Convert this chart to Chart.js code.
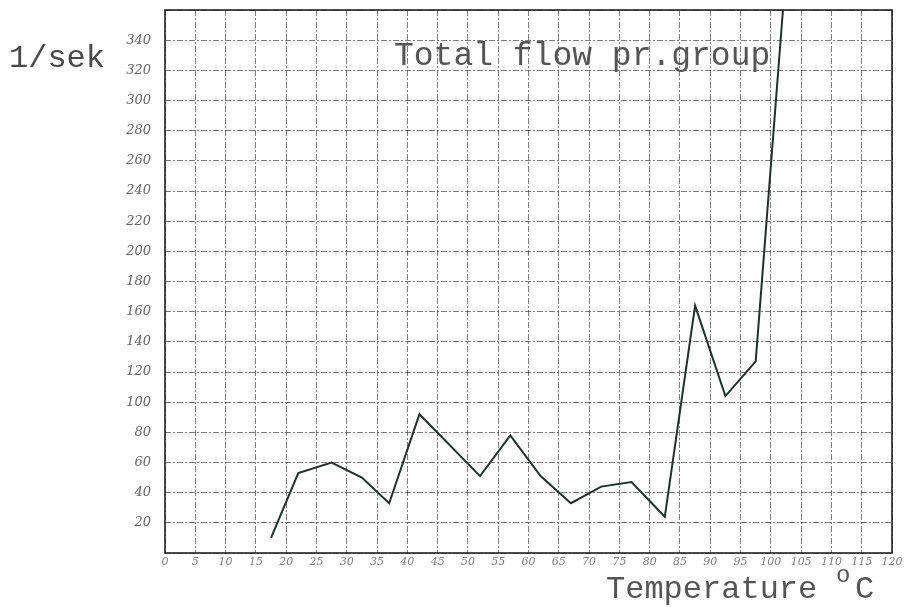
<!DOCTYPE html>
<html>
<head>
<meta charset="utf-8">
<script src="https://cdn.jsdelivr.net/npm/chart.js@4/dist/chart.umd.min.js"></script>
<style>
  html, body { margin: 0; padding: 0; background: #fff; }
  #wrap { width: 907px; height: 607px; position: relative; }
</style>
</head>
<body>
<div id="wrap"><canvas id="flowChart"></canvas></div>
<script>
// Temperature (°C) and total flow (l/sek)
const temps = [17.5, 22, 27.5, 32.5, 37, 42, 52, 57, 62, 67, 72, 77, 82.5, 87.5, 92.5, 97.5, 102];
const flows = [10, 53, 60, 50, 33, 92, 51, 78, 51, 33, 44, 47, 24, 164, 104, 127, 360];

const yTickLabels = [20, 40, 60, 80, 100, 120, 140, 160, 180, 200, 220, 240, 260, 280, 300, 320, 340];
const xTickLabels = [0, 5, 10, 15, 20, 25, 30, 35, 40, 45, 50, 55, 60, 65, 70, 75, 80, 85, 90, 95, 100, 105, 110, 115, 120];

const gridColor = 'rgba(70, 70, 70, 0.7)';
const typeFont = '"Liberation Mono", "DejaVu Sans Mono", monospace';

// Typewriter texts drawn on the chart
const labelsPlugin = {
  id: 'typedLabels',
  afterDraw(chart) {
    const ctx = chart.ctx;
    ctx.save();
    ctx.fillStyle = '#4a4a4a';
    ctx.textBaseline = 'alphabetic';
    ctx.textAlign = 'left';

    ctx.font = '32px ' + typeFont;
    ctx.fillText('1/sek', 9, 67);

    ctx.font = '33px ' + typeFont;
    ctx.fillStyle = '#555';
    ctx.fillText('Total flow pr.group', 394, 65);

    ctx.font = '32px ' + typeFont;
    ctx.fillText('Temperature', 606, 598);
    ctx.font = '24px ' + typeFont;
    ctx.fillText('o', 836, 582);
    ctx.font = '32px ' + typeFont;
    ctx.fillText('C', 855, 598);

    // frame of the graph paper
    const a = chart.chartArea;
    ctx.strokeStyle = '#222';
    ctx.lineWidth = 1.6;
    ctx.strokeRect(a.left, a.top, a.right - a.left, a.bottom - a.top);
    ctx.restore();
  }
};

const ctx = document.getElementById('flowChart').getContext('2d');
new Chart(ctx, {
  type: 'line',
  data: {
    datasets: [{
      label: 'Total flow pr.group',
      data: temps.map((t, i) => ({ x: t, y: flows[i] })),
      borderColor: '#23302c',
      borderWidth: 2,
      pointRadius: 0,
      tension: 0,
      fill: false
    }]
  },
  options: {
    responsive: true,
    maintainAspectRatio: false,
    animation: false,
    layout: { padding: { top: 10, right: 15, left: 0, bottom: 0 } },
    plugins: {
      legend: { display: false },
      tooltip: { enabled: false }
    },
    scales: {
      x: {
        type: 'linear',
        min: 0,
        max: 120,
        afterBuildTicks(scale) {
          scale.ticks = xTickLabels.map(v => ({ value: v }));
        },
        afterFit(scale) { scale.height = 54; },
        ticks: {
          autoSkip: false,
          maxRotation: 0,
          padding: 3,
          color: '#808080',
          font: { family: 'DejaVu Serif', style: 'italic', size: 11 },
          callback: v => String(v)
        },
        grid: {
          color: gridColor,
          lineWidth: 1,
          drawTicks: false
        },
        border: { display: false, dash: [6, 2, 2, 2] }
      },
      y: {
        min: 0,
        max: 360,
        afterBuildTicks(scale) {
          scale.ticks = [0].concat(yTickLabels, [360]).map(v => ({ value: v }));
        },
        afterFit(scale) {
          scale.width = 165;
          scale.paddingTop = 0;
          scale.paddingBottom = 0;
        },
        ticks: {
          autoSkip: false,
          padding: 14,
          color: '#666',
          font: { family: 'DejaVu Serif', style: 'italic', size: 13 },
          callback: v => (yTickLabels.includes(v) ? String(v) : '')
        },
        grid: {
          color: gridColor,
          lineWidth: 1,
          drawTicks: false
        },
        border: { display: false, dash: [6, 2, 2, 2] }
      }
    }
  },
  plugins: [labelsPlugin]
});
</script>
</body>
</html>
